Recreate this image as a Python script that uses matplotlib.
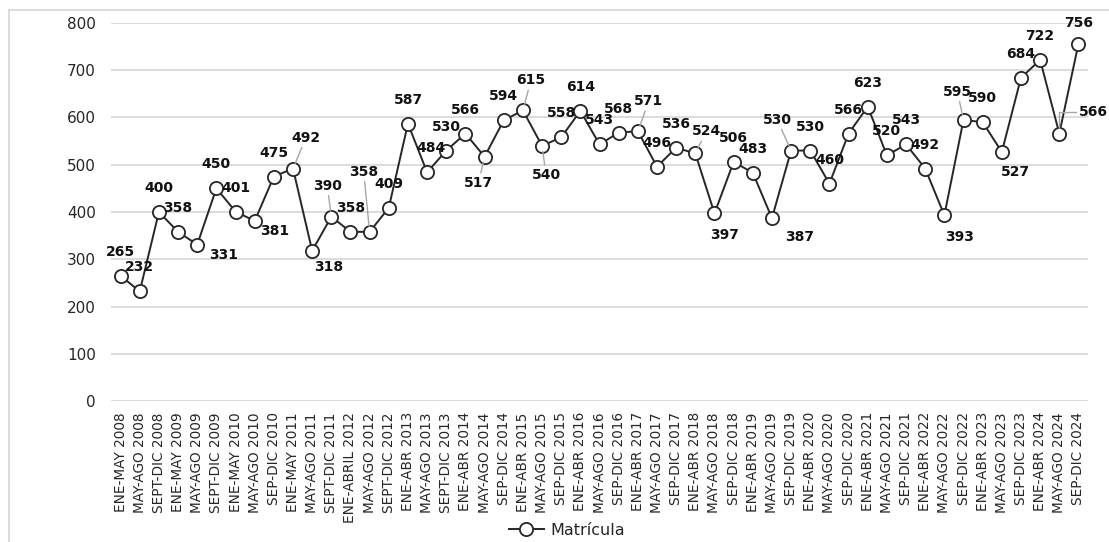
import matplotlib
matplotlib.use('Agg')
import matplotlib.pyplot as plt
from matplotlib.lines import Line2D

# Periods (x axis) and enrolment values
periods = [
    'ENE-MAY 2008', 'MAY-AGO 2008', 'SEPT-DIC 2008', 'ENE-MAY 2009', 'MAY-AGO 2009',
    'SEPT-DIC 2009', 'ENE-MAY 2010', 'MAY-AGO 2010', 'SEP-DIC 2010', 'ENE-MAY 2011',
    'MAY-AGO 2011', 'SEPT-DIC 2011', 'ENE-ABRIL 2012', 'MAY-AGO 2012', 'SEPT-DIC 2012',
    'ENE-ABR 2013', 'MAY-AGO 2013', 'SEPT-DIC 2013', 'ENE-ABR 2014', 'MAY-AGO 2014',
    'SEP-DIC 2014', 'ENE-ABR 2015', 'MAY-AGO 2015', 'SEP-DIC 2015', 'ENE-ABR 2016',
    'MAY-AGO 2016', 'SEP-DIC 2016', 'ENE-ABR 2017', 'MAY-AGO 2017', 'SEP-DIC 2017',
    'ENE-ABR 2018', 'MAY-AGO 2018', 'SEP-DIC 2018', 'ENE-ABR 2019', 'MAY-AGO 2019',
    'SEP-DIC 2019', 'ENE-ABR 2020', 'MAY-AGO 2020', 'SEP-DIC 2020', 'ENE-ABR 2021',
    'MAY-AGO 2021', 'SEP-DIC 2021', 'ENE-ABR 2022', 'MAY-AGO 2022', 'SEP-DIC 2022',
    'ENE-ABR 2023', 'MAY-AGO 2023', 'SEP-DIC 2023', 'ENE-ABR 2024', 'MAY-AGO 2024',
    'SEP-DIC 2024',
]
matricula = [
    265, 232, 400, 358, 331, 450, 401, 381, 475, 492,
    318, 390, 358, 358, 409, 587, 484, 530, 566, 517,
    594, 615, 540, 558, 614, 543, 568, 571, 496, 536,
    524, 397, 506, 483, 387, 530, 530, 460, 566, 623,
    520, 543, 492, 393, 595, 590, 527, 684, 722, 566,
    756,
]
y_ticks = [0, 100, 200, 300, 400, 500, 600, 700, 800]

# label placement (pixels from the point); default is straight above
DEFAULT_OFFSET = (0, 24)
label_offsets = {
    4: (26, -10), 7: (20, -10), 9: (13, 31), 10: (17, -16), 11: (-4, 31),
    13: (-6, 60), 16: (4, 24), 19: (-6, -26), 21: (8, 30), 22: (4, -29),
    27: (11, 30), 30: (11, 22), 31: (10, -22), 34: (28, -19), 35: (-14, 31),
    43: (15, -22), 44: (-6, 28), 46: (14, -20), 49: (34, 22), 50: (0, 21),
}
leaders = {9, 11, 13, 19, 21, 22, 27, 30, 35, 44}
elbow_leaders = {49}

GRID = '#d9d9d9'
LINE = '#262626'
TEXT = '#262626'

fig = plt.figure(figsize=(11.09, 5.42), dpi=100)
ax = fig.add_axes([0.1001, 0.2601, 0.8810, 0.6975])

x = list(range(len(periods)))
ax.plot(x, matricula, color=LINE, linewidth=1.4, marker='o', markersize=9.5,
        markerfacecolor='white', markeredgecolor=LINE, markeredgewidth=1.3,
        label='Matrícula', zorder=3)

for i, v in enumerate(matricula):
    dx, dy = label_offsets.get(i, DEFAULT_OFFSET)
    arrow = None
    if i in leaders:
        arrow = dict(arrowstyle='-', color='#a6a6a6', lw=1.0, shrinkA=0, shrinkB=4)
    elif i in elbow_leaders:
        arrow = dict(arrowstyle='-', color='#a6a6a6', lw=1.0, shrinkA=0, shrinkB=4,
                     connectionstyle='angle,angleA=0,angleB=90,rad=0')
    ax.annotate(str(v), xy=(i, v), xytext=(dx, dy), textcoords='offset pixels',
                ha='center', va='center', fontsize=10, fontweight='bold',
                color='#111111', arrowprops=arrow, zorder=4)

ax.set_xlim(-0.5, len(periods) - 0.5)
ax.set_ylim(0, 800)
ax.set_yticks(y_ticks)
ax.set_yticklabels([str(t) for t in y_ticks], fontsize=11, color=TEXT)
ax.set_xticks(x)
ax.set_xticklabels(periods, rotation=90, fontsize=9.8, color=TEXT)
ax.tick_params(axis='both', length=0)
ax.tick_params(axis='y', pad=11)
ax.tick_params(axis='x', pad=8)

ax.grid(axis='y', color=GRID, linewidth=1.3)
ax.set_axisbelow(True)
for s in ax.spines.values():
    s.set_visible(False)

fig.legend(loc='center', bbox_to_anchor=(0.511, 0.022), frameon=False,
           fontsize=11.5, handlelength=2.2, handletextpad=0.4, labelcolor=TEXT)

# outer chart frame (left and top edges are visible)
fig.add_artist(Line2D([9 / 1109, 9 / 1109], [0, 532 / 542], transform=fig.transFigure,
                      color=GRID, linewidth=1.3))
fig.add_artist(Line2D([9 / 1109, 1], [532 / 542, 532 / 542], transform=fig.transFigure,
                      color=GRID, linewidth=1.3))

fig.savefig('out.png', dpi=100)
